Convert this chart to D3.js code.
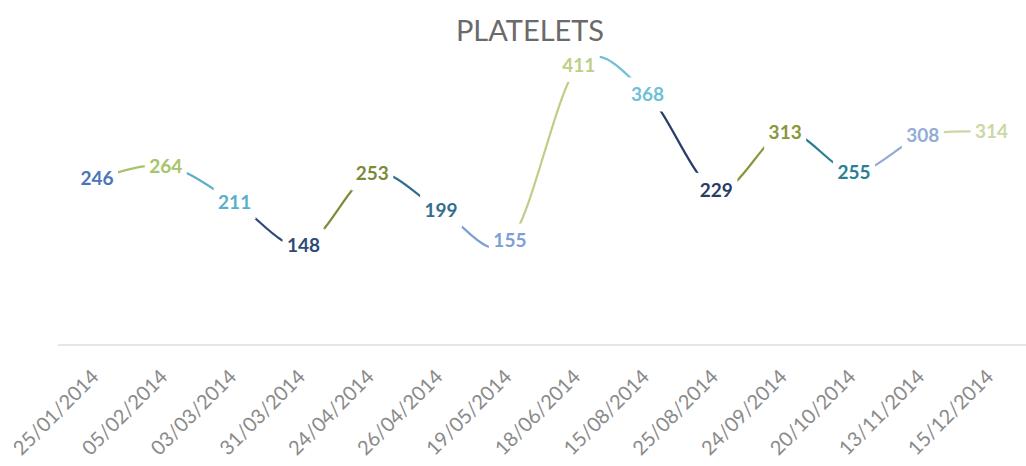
<!DOCTYPE html>
<html>
<head>
<meta charset="utf-8">
<script src="https://cdn.jsdelivr.net/npm/d3@7"></script>
<style>
  body { margin: 0; background: #fff; }
</style>
</head>
<body>
<div class="chart"></div>
<script>
// chart data
var dates = ["25/01/2014", "05/02/2014", "03/03/2014", "31/03/2014", "24/04/2014",
    "26/04/2014", "19/05/2014", "18/06/2014", "15/08/2014", "25/08/2014",
    "24/09/2014", "20/10/2014", "13/11/2014", "15/12/2014"];
var platelets = [246, 264, 211, 148, 253, 199, 155, 411, 368, 229, 313, 255, 308, 314];
var pointColors = ["#4a76b8", "#a6c46a", "#5bb0c8", "#2e4b78", "#7a8c3a", "#336e8c", "#7d9fd3",
    "#bccf86", "#6fbfd6", "#2a3d66", "#8a963c", "#2b7f93", "#93acd6", "#cbd8a6"];

var svgWidth = 1026;
var svgHeight = 466;

var svg = d3.select(".chart")
    .append("svg")
    .attr("width", svgWidth)
    .attr("height", svgHeight);

var xScale = d3.scaleBand()
    .domain(dates)
    .range([62.6, 1026]);

var yScale = d3.scaleLinear()
    .domain([0, 450])
    .range([347, 38.2]);

// title
svg.append("text")
    .attr("x", 530)
    .attr("y", 41)
    .attr("text-anchor", "middle")
    .style("font", "29px Lato, sans-serif")
    .style("fill", "#6a6a6a")
    .text("PLATELETS");

// axis line
svg.append("line")
    .attr("x1", 58)
    .attr("x2", 1026)
    .attr("y1", 345)
    .attr("y2", 345)
    .attr("stroke", "#e6e6e6")
    .attr("stroke-width", 2);

// x labels
svg.append("g")
    .selectAll("text")
    .data(dates)
    .enter()
    .append("text")
    .attr("transform", d => `translate(${xScale(d) + xScale.bandwidth() / 2 + 3}, 378) rotate(-45)`)
    .attr("text-anchor", "end")
    .style("font", "20px Lato, sans-serif")
    .style("fill", "#8a8a8a")
    .text(d => d);

// smooth line, one piece per point so each gets its own colour
var pts = platelets.map((v, i) => [xScale(dates[i]) + xScale.bandwidth() / 2, yScale(v)]);

var lineGroup = svg.append("g");
for (var i = 1; i < pts.length; i++) {
    var p0 = pts[Math.max(i - 2, 0)];
    var p1 = pts[i - 1];
    var p2 = pts[i];
    var p3 = pts[Math.min(i + 1, pts.length - 1)];
    var path = d3.path();
    path.moveTo(p1[0], p1[1]);
    path.bezierCurveTo(
        p1[0] + (p2[0] - p0[0]) / 6, p1[1] + (p2[1] - p0[1]) / 6,
        p2[0] - (p3[0] - p1[0]) / 6, p2[1] - (p3[1] - p1[1]) / 6,
        p2[0], p2[1]);
    lineGroup.append("path")
        .attr("d", path.toString())
        .attr("fill", "none")
        .attr("stroke", pointColors[i])
        .attr("stroke-width", 2.2)
        .attr("stroke-linecap", "round");
}

// data labels with white boxes that cut the line
var labels = svg.append("g")
    .selectAll("g")
    .data(platelets)
    .enter()
    .append("g")
    .attr("transform", (d, i) => `translate(${pts[i][0]}, ${pts[i][1]})`);

labels.append("rect")
    .attr("x", -21)
    .attr("y", -17)
    .attr("width", 42)
    .attr("height", 34)
    .attr("fill", "#fff");

labels.append("text")
    .attr("text-anchor", "middle")
    .attr("dy", "0.36em")
    .style("font", "bold 19px Lato, sans-serif")
    .style("fill", (d, i) => pointColors[i])
    .text(d => d);
</script>
</body>
</html>
